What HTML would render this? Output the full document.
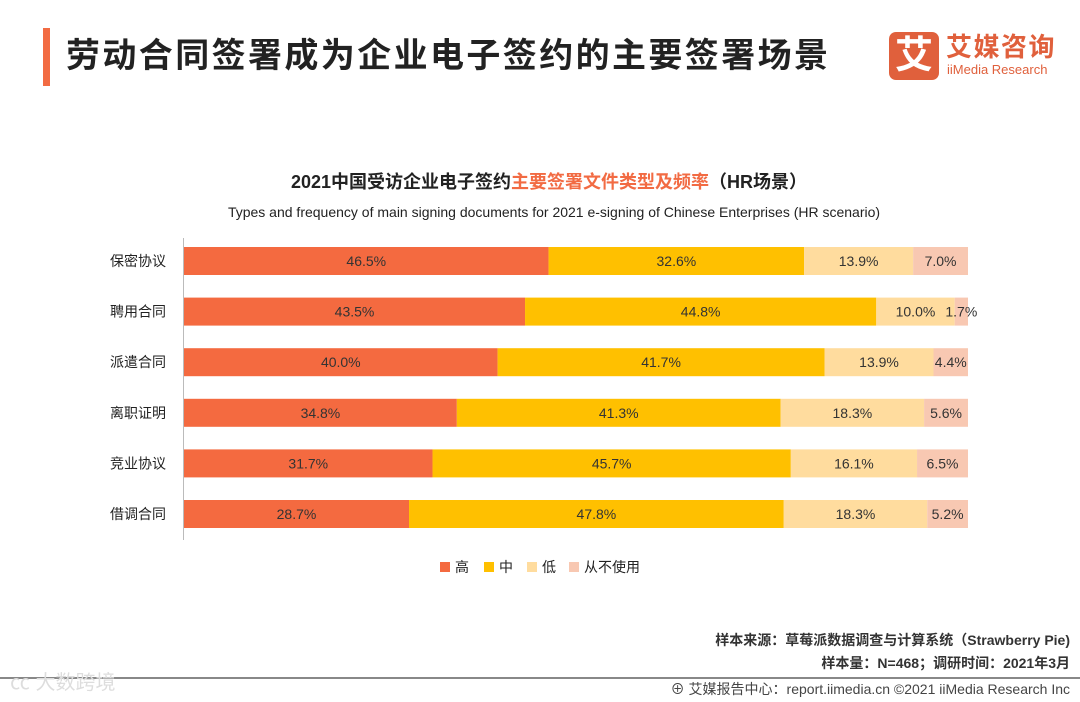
<!DOCTYPE html>
<html><head><meta charset="utf-8">
<style>
body{margin:0;width:1080px;height:702px;background:#fff;overflow:hidden;font-family:"Liberation Sans","Noto Sans CJK SC",sans-serif;position:relative}
.abs{position:absolute;line-height:1.15}
</style></head><body>
<div class="abs" style="left:43px;top:28px;width:7px;height:58px;background:#F26B43"></div>
<div class="abs" style="left:66px;top:37px;font-size:34px;font-weight:bold;color:#222;letter-spacing:2.4px">劳动合同签署成为企业电子签约的主要签署场景</div>
<div class="abs" style="left:889px;top:32px;width:50px;height:48px;background:#E0603C;border-radius:7px;color:#fff;font-size:38px;font-weight:bold;text-align:center;line-height:48px">艾</div>
<div class="abs" style="left:946px;top:33px;font-size:26px;font-weight:bold;color:#E0603C;letter-spacing:1.5px">艾媒咨询</div>
<div class="abs" style="left:947px;top:63px;font-size:13px;color:#E0603C">iiMedia Research</div>
<div class="abs" style="left:0;width:1098px;top:172px;text-align:center;font-size:18px;font-weight:bold;color:#222">2021中国受访企业电子签约<span style="color:#F26B43">主要签署文件类型及频率</span>（HR场景）</div>
<div class="abs" style="left:0;width:1108px;top:204px;text-align:center;font-size:14px;color:#222">Types and frequency of main signing documents for 2021 e-signing of Chinese Enterprises (HR scenario)</div>
<svg class="abs" style="left:0;top:0" width="1080" height="702" id="chart"></svg>
<div class="abs" style="right:10px;top:632px;font-size:14px;color:#333;font-weight:bold">样本来源：草莓派数据调查与计算系统（Strawberry Pie)</div>
<div class="abs" style="right:10px;top:655px;font-size:14px;color:#333;font-weight:bold">样本量：N=468；调研时间：2021年3月</div>
<div class="abs" style="left:0;top:677px;width:1080px;height:2px;background:#888"></div>
<div class="abs" style="left:10px;top:672px;font-size:20px;color:#ddd">㏄ 大数跨境</div>
<div class="abs" style="right:10px;top:681px;font-size:14px;color:#444">⊕ 艾媒报告中心：report.iimedia.cn  ©2021  iiMedia Research  Inc</div>
<script>
const categories=["保密协议","聘用合同","派遣合同","离职证明","竞业协议","借调合同"];
const high=[46.5,43.5,40.0,34.8,31.7,28.7];
const mid=[32.6,44.8,41.7,41.3,45.7,47.8];
const low=[13.9,10.0,13.9,18.3,16.1,18.3];
const never=[7.0,1.7,4.4,5.6,6.5,5.2];
const seriesNames=["高","中","低","从不使用"];
const colors=["#F46A40","#FFC000","#FFDC9E","#F8C8B2"];
const series=[high,mid,low,never];
const svg=document.getElementById('chart');const NS="http://www.w3.org/2000/svg";
const x0=184,xw=784,y0=247,step=50.6,bh=28;
const xs=v=>x0+v/100*xw;
function mk(t,a){const e=document.createElementNS(NS,t);for(const k in a)e.setAttribute(k,a[k]);svg.appendChild(e);return e;}
const ax=mk('line',{x1:x0-0.5,x2:x0-0.5,y1:238,y2:540,stroke:'#bbb'});


categories.forEach((c,i)=>{
  const y=y0+i*step;
  const lb=mk('text',{x:166,y:y+bh/2+5,'text-anchor':'end','font-size':14,fill:'#222'});lb.textContent=c;
  
  
  let acc=0;
  series.forEach((s,j)=>{
    const v=s[i];
    const r=mk('rect',{x:xs(acc),y:y,width:xs(acc+v)-xs(acc),height:bh,fill:colors[j]});
    
    
    const t=mk('text',{x:(xs(acc)+xs(acc+v))/2,y:y+bh/2+5,'text-anchor':'middle','font-size':14,fill:'#333'});
    t.textContent=v.toFixed(1)+'%';
    
    
    acc+=v;
  });
});
const lx=[440,484,527,569];
seriesNames.forEach((n,j)=>{
  const r=mk('rect',{x:lx[j],y:562,width:10,height:10,fill:colors[j]});
  
  
  const t=mk('text',{x:lx[j]+15,y:572,'font-size':14,fill:'#222'});t.textContent=n;
  
  
});
</script>
</body></html>
